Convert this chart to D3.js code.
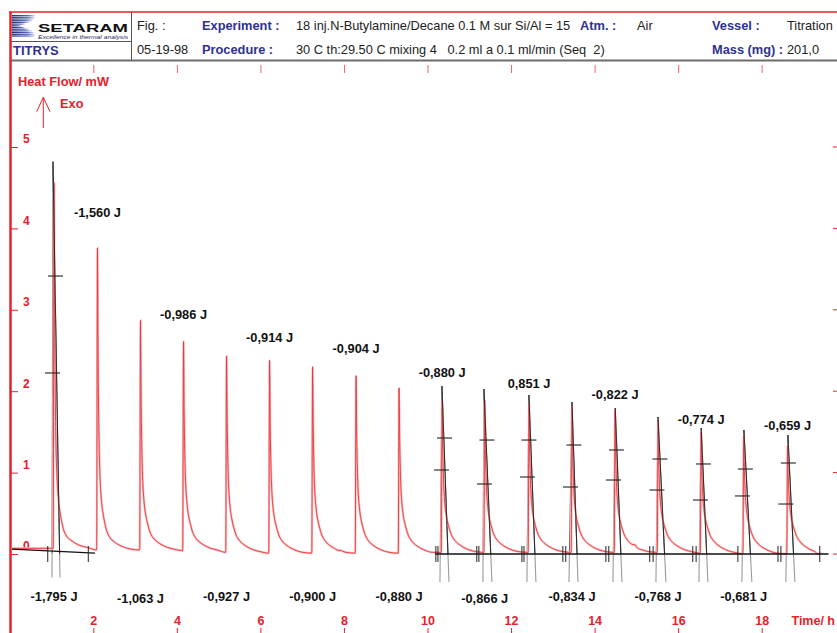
<!DOCTYPE html>
<html><head><meta charset="utf-8">
<script src="https://cdn.jsdelivr.net/npm/d3@7"></script>
<style>body{margin:0;background:#fff}svg{display:block;font-family:"Liberation Sans",Arial,sans-serif}</style>
</head><body><svg id="c" width="837" height="633"></svg>
<script>
// ---------- DATA ----------
const peakTimes   = [1.06,2.10,3.13,4.16,5.19,6.22,7.25,8.29,9.32,10.35,11.37,12.43,13.46,14.49,15.52,16.55,17.57,18.62];
const peakHeights = [4.56,3.76,2.87,2.61,2.43,2.38,2.30,2.19,2.04,1.89,1.89,1.86,1.81,1.77,1.65,1.50,1.46,1.34];
const baseLevels  = [0.07,0.05,0.05,0.04,0.02,0.01,0.01,0.01,0.01,0.02,0.02,0.02,0.02,0.02,0.02,0.01,0.00,0.00];
const profileOffsets = [-0.02,0,0.015,0.03,0.045,0.06,0.08,0.10,0.13,0.17,0.22,0.30,0.40,0.52,0.65,0.80];
const profileSpike   = [0,1,0.60,0.35,0.22,0.15,0.10,0.07,0.045,0.025,0.01,0,0,0,0,0];
const profileTail    = [0,0,0.15,0.30,0.34,0.35,0.34,0.32,0.29,0.25,0.20,0.15,0.10,0.06,0.03,0.01];
const bumpTimes  = [7.90, 14.98];
const bumpValues = [0.045, 0.11];
const curveEnd = 19.35;

const topLabels       = ["-1,560 J","-0,986 J","-0,914 J","-0,904 J","-0,880 J","0,851 J","-0,822 J","-0,774 J","-0,659 J"];
const topLabelPeaks   = [1,3,5,7,9,11,13,15,17];
const topLabelLevels  = [4.195,2.942,2.666,2.531,2.230,2.095,1.966,1.658,1.585];
const bottomLabels      = ["-1,795 J","-1,063 J","-0,927 J","-0,900 J","-0,880 J","-0,866 J","-0,834 J","-0,768 J","-0,681 J"];
const bottomLabelPeaks  = [0,2,4,6,8,10,12,14,16];
const bottomLabelLevels = [-0.516,-0.541,-0.516,-0.516,-0.516,-0.541,-0.516,-0.516,-0.516];

const xTicks = [2,4,6,8,10,12,14,16,18];
const yTicks = [0,1,2,3,4,5];

// tangent construction for integrated peaks
const fitApexTimes   = [1.035,10.346,11.351,12.428,13.458,14.494,15.518,16.552,17.574,18.627];
const fitApexValues  = [4.82,2.064,2.027,1.953,1.867,1.794,1.683,1.548,1.523,1.462];
const fitLeftTimes   = [1.011,10.298,11.327,12.380,13.387,14.439,15.468,16.497,17.526,18.579];
const fitRightTimes  = [1.203,10.514,11.542,12.596,13.602,14.655,15.707,16.712,17.765,18.794];
const fitBottomValues= [-0.29,-0.344,-0.344,-0.344,-0.344,-0.344,-0.344,-0.344,-0.344,-0.344];
const crossHighTimes = [1.095,10.406,11.423,12.428,13.506,14.523,15.564,16.605,17.610,18.639];
const crossHighValues= [3.415,1.425,1.400,1.400,1.339,1.278,1.167,1.106,1.044,1.118];
const crossLowTimes  = [1.023,10.334,11.363,12.392,13.422,14.451,15.492,16.533,17.538,18.579];
const crossLowValues = [2.224,1.032,0.860,0.946,0.823,0.909,0.786,0.663,0.713,0.614];
const baselineSegments = [[[0.05,0.06],[2.04,0.01]],[[10.18,0.0],[19.6,0.0]]];
const baselineTicks = [0.91,1.88,10.20,10.25,11.18,11.23,12.26,12.31,13.24,13.31,14.27,14.34,15.32,15.40,16.35,16.43,17.43,18.39,18.46,19.39];

// ---------- DRAW ----------
const svg = d3.select("#c");
const RED = "#e8202a", BLUE = "#2e3192";
const x = d3.scaleLinear().domain([2,18]).range([93.3,761.7]);
const y = d3.scaleLinear().domain([0,5]).range([554,147]);

// header
const hdr = svg.append("g");
hdr.append("line").attr("x1",9).attr("x2",837).attr("y1",12).attr("y2",12).attr("stroke",RED).attr("stroke-width",1.5);
hdr.append("line").attr("x1",10).attr("x2",837).attr("y1",60.5).attr("y2",60.5).attr("stroke","#6d6d6d").attr("stroke-width",2);
hdr.append("line").attr("x1",131.5).attr("x2",131.5).attr("y1",12).attr("y2",60).attr("stroke","#555").attr("stroke-width",1);
hdr.append("line").attr("x1",10).attr("x2",131.5).attr("y1",41.5).attr("y2",41.5).attr("stroke","#555").attr("stroke-width",1);
// logo
const grad = svg.append("defs").append("linearGradient").attr("id","lg").attr("x1",0).attr("x2",1);
grad.append("stop").attr("offset","0").attr("stop-color","#1c2a6b");
grad.append("stop").attr("offset","0.7").attr("stop-color","#5a6cb8");
grad.append("stop").attr("offset","1").attr("stop-color","#dfe3f3");
const stripeW = [23,23,22,20,17,13,9,13,17,20,22,23,23];
stripeW.forEach((w,i)=>{
  hdr.append("rect").attr("x",12).attr("y",15+i*1.7).attr("width",w).attr("height",1.2).attr("fill","url(#lg)");
});
hdr.append("text").attr("x",38).attr("y",31.5).attr("font-size",10).attr("font-weight",900)
  .attr("textLength",90).attr("lengthAdjust","spacingAndGlyphs").attr("fill","#111").text("SETARAM");
hdr.append("text").attr("x",38).attr("y",38.5).attr("font-size",5).attr("font-style","italic")
  .attr("textLength",90).attr("lengthAdjust","spacingAndGlyphs").attr("fill","#2a2a5a").text("Excellence in thermal analysis");
hdr.append("text").attr("x",13).attr("y",55).attr("font-size",13).attr("font-weight","bold").attr("fill",BLUE).text("TITRYS");
const hText = [
  [137,30,"Fig. :",false],[202,30,"Experiment :",true],[296,30,"18 inj.N-Butylamine/Decane 0.1 M sur Si/Al = 15",false],
  [580,30,"Atm. :",true],[637,30,"Air",false],[712,30,"Vessel :",true],[787,30,"Titration",false],
  [137,54,"05-19-98",false],[202,54,"Procedure :",true],[296,54,"30 C th:29.50 C mixing 4\u00a0\u00a0 0.2 ml a 0.1 ml/min (Seq\u00a0 2)",false],
  [712,54,"Mass (mg) :",true],[787,54,"201,0",false]
];
hText.forEach(d=>{
  hdr.append("text").attr("x",d[0]).attr("y",d[1]).attr("font-size",12.8)
    .attr("font-weight",d[3]?"bold":"normal").attr("fill",d[3]?BLUE:"#222").text(d[2]);
});

// axes
svg.append("line").attr("x1",10.5).attr("x2",10.5).attr("y1",12).attr("y2",633).attr("stroke",RED).attr("stroke-width",2.5);
const yAxis = svg.append("g").attr("transform","translate(11,0)")
  .call(d3.axisRight(y).tickValues(yTicks).tickSize(7).tickFormat(d3.format("d")));
yAxis.select(".domain").remove();
yAxis.selectAll("line").attr("stroke",RED);
yAxis.selectAll("text").attr("fill",RED).attr("font-size",12).attr("font-weight","bold")
  .attr("font-family","Liberation Sans, Arial, sans-serif").attr("x",12).attr("dy","-0.35em");
// right edge ticks
svg.append("g").selectAll("line").data(yTicks).join("line")
  .attr("x1",833).attr("x2",837).attr("y1",d=>y(d)).attr("y2",d=>y(d)).attr("stroke",RED).attr("stroke-width",1);

const xBottom = svg.append("g").attr("transform","translate(0,628)")
  .call(d3.axisBottom(x).tickValues(xTicks).tickSize(6).tickFormat(d3.format("d")));
xBottom.select(".domain").remove();
xBottom.selectAll("line").attr("stroke",RED);
xBottom.selectAll("text").attr("fill",RED).attr("font-size",12.5).attr("font-weight","bold")
  .attr("font-family","Liberation Sans, Arial, sans-serif").attr("y",-3).attr("dy","0");
const xTop = svg.append("g").attr("transform","translate(0,65)")
  .call(d3.axisBottom(x).tickValues(xTicks).tickSize(8).tickFormat(""));
xTop.select(".domain").remove();
xTop.selectAll("line").attr("stroke",RED).attr("stroke-opacity",0.7);

svg.append("text").attr("x",835).attr("y",625).attr("text-anchor","end").attr("font-size",12.5).attr("font-weight","bold").attr("fill",RED).text("Time/ h");
svg.append("text").attr("x",18).attr("y",86).attr("font-size",12.8).attr("font-weight","bold").attr("fill",RED).text("Heat Flow/ mW");
svg.append("text").attr("x",60).attr("y",108).attr("font-size",12.8).attr("font-weight","bold").attr("fill",RED).text("Exo");
svg.append("path").attr("d","M43.3,128V97.3M36.7,111.7L43.3,97.3L50,111.7").attr("fill","none").attr("stroke",RED).attr("stroke-width",1);

// curve
let pts = [[0, baseLevels[0]]];
peakTimes.forEach((t0,i)=>{
  const b = baseLevels[i], h = peakHeights[i]-b;
  profileOffsets.forEach((o,k)=> pts.push([t0+o, b + h*profileSpike[k] + profileTail[k]]));
});
bumpTimes.forEach((t,i)=>pts.push([t,bumpValues[i]]));
pts.push([curveEnd, 0.0]);
pts.sort((a,b)=>a[0]-b[0]);
const line = d3.line().x(d=>x(d[0])).y(d=>y(d[1])).curve(d3.curveMonotoneX);
const clip = svg.append("defs").append("clipPath").attr("id","pc");
clip.append("rect").attr("x",11).attr("y",62).attr("width",826).attr("height",571);
const plot = svg.append("g").attr("clip-path","url(#pc)");

// construction lines (under curve)
fitApexTimes.forEach((ta,i)=>{
  const va = fitApexValues[i], vb = fitBottomValues[i];
  [fitLeftTimes[i], fitRightTimes[i]].forEach(tb=>{
    const s = va/(va-vb), tz = ta + (tb-ta)*s;
    plot.append("line").attr("x1",x(tz)).attr("y1",y(0)).attr("x2",x(tb)).attr("y2",y(vb))
      .attr("stroke","#9a9a9a").attr("stroke-width",1.1);
    plot.append("line").attr("x1",x(ta)).attr("y1",y(va)).attr("x2",x(tz)).attr("y2",y(0))
      .attr("stroke","#666").attr("stroke-width",1.1);
  });
});

plot.append("path").datum(pts).attr("d",line).attr("fill","none").attr("stroke","#f9c2c2").attr("stroke-width",2.3);
plot.append("path").datum(pts).attr("d",line).attr("fill","none").attr("stroke","#ea3238").attr("stroke-width",0.9);

// overlay black parts of tangent lines over the curve
fitApexTimes.forEach((ta,i)=>{
  const va = fitApexValues[i], vb = fitBottomValues[i];
  const tb = fitRightTimes[i];
  const s = va/(va-vb), tz = ta + (tb-ta)*s;
  plot.append("line").attr("x1",x(ta)).attr("y1",y(va)).attr("x2",x(tz)).attr("y2",y(0))
    .attr("stroke","#222").attr("stroke-width",0.9);
});
// crosses
const crossData = crossHighTimes.map((t,i)=>[t,crossHighValues[i]]).concat(crossLowTimes.map((t,i)=>[t,crossLowValues[i]]));
plot.selectAll(".cr").data(crossData).join("line")
  .attr("x1",d=>x(d[0])-7.5).attr("x2",d=>x(d[0])+7.5).attr("y1",d=>y(d[1])).attr("y2",d=>y(d[1]))
  .attr("stroke","#222").attr("stroke-width",1.1);
// integration baselines
baselineSegments.forEach(seg=>{
  plot.append("line").attr("x1",x(seg[0][0])).attr("y1",y(seg[0][1])).attr("x2",x(seg[1][0])).attr("y2",y(seg[1][1]))
    .attr("stroke","#111").attr("stroke-width",1.3);
});
plot.selectAll(".bt").data(baselineTicks).join("line")
  .attr("x1",d=>x(d)).attr("x2",d=>x(d)).attr("y1",y(0)-8).attr("y2",y(0)+8)
  .attr("stroke","#222").attr("stroke-width",1);

// energy labels
const lab = svg.append("g").attr("font-size",12.8).attr("font-weight","bold").attr("fill","#111").attr("text-anchor","middle");
topLabels.forEach((t,i)=>{
  lab.append("text").attr("x",x(peakTimes[topLabelPeaks[i]])).attr("y",y(topLabelLevels[i])).attr("dy","0.36em").text(t);
});
bottomLabels.forEach((t,i)=>{
  lab.append("text").attr("x",x(peakTimes[bottomLabelPeaks[i]])).attr("y",y(bottomLabelLevels[i])).attr("dy","0.36em").text(t);
});
</script></body></html>
